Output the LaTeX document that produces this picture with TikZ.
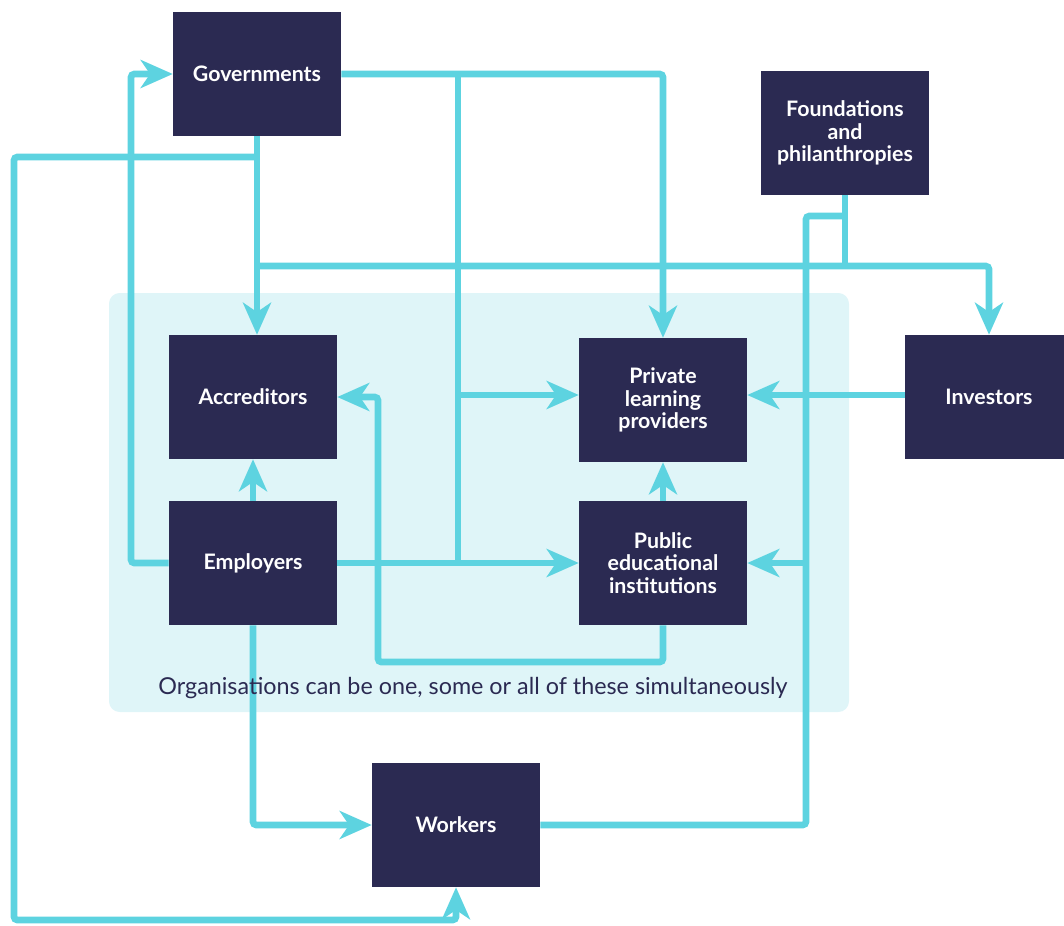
\documentclass[tikz,border=0pt]{standalone}
\usepackage{fontspec}
\setmainfont{Lato}
\usetikzlibrary{arrows.meta,calc}
\definecolor{navy}{HTML}{2B2A52}
\definecolor{cyanline}{HTML}{5DD3E0}
\definecolor{bgpale}{HTML}{DFF5F8}
\begin{document}
\begin{tikzpicture}[x=0.75pt,y=-0.75pt,
  box/.style={fill=navy, text=white, font=\bfseries\fontsize{16}{17}\selectfont, align=center,
    minimum width=126pt, minimum height=93pt, inner sep=0pt},
  conn/.style={draw=cyanline, line width=5pt, rounded corners=2.5pt},
  arr/.style={conn, -{Stealth[length=24pt,width=21pt,inset=7pt]}}]
\useasboundingbox (0,0) rectangle (1064,925);
\fill[bgpale, rounded corners=8pt] (109,293) rectangle (849,712);

\node[box] (gov) at (257,74) {Governments};
\node[box] (fnd) at (845,133) {Foundations\\and\\philanthropies};
\node[box] (acc) at (253,397) {Accreditors};
\node[box] (prv) at (663,400) {Private\\learning\\providers};
\node[box] (inv) at (989,397) {Investors};
\node[box] (emp) at (253,563) {Employers};
\node[box] (pub) at (663,563) {Public\\educational\\institutions};
\node[box] (wrk) at (456,825) {Workers};

\coordinate (xa) at (458,0);
\coordinate (xb) at (806,0);
\coordinate (xc) at (378,0);
\coordinate (xl) at (14,0);
\coordinate (xe) at (131,0);
\coordinate (ya) at (0,266);
\coordinate (yb) at (0,157);
\coordinate (yc) at (0,216);
\coordinate (yd) at (0,920);
\coordinate (ye) at (0,662);
\coordinate (yp) at (0,395);

\draw[arr] (gov.east) -| (prv.north);
\draw[conn] (gov.east -| xa) -- (xa |- emp.east);
\draw[arr] (xa |- yp) -- (prv.west |- yp);
\draw[arr] (gov.south) -- (gov.south |- acc.north);
\draw[arr] (gov.south |- ya) -| (inv.north);
\draw[conn] (fnd.south) -- (fnd.south |- ya);
\draw[conn] (wrk.east) -| (xb |- yc) -- (fnd.south |- yc);
\draw[arr] (xb |- pub.east) -- (pub.east);
\draw[arr] (inv.west |- yp) -- (prv.east |- yp);
\draw[arr] (gov.south |- yb) -- (xl |- yb) -- (xl |- yd) -| (wrk.south);
\draw[arr] (emp.west) -| (xe |- gov.west) -- (gov.west);
\draw[arr] (emp.east) -- (pub.west);
\draw[arr] (emp.north) -- (acc.south);
\draw[arr] (emp.south) |- (wrk.west);
\draw[arr] (pub.north) -- (prv.south);
\draw[arr] (pub.south) -- (pub.south |- ye) -| (xc |- acc.east) -- (acc.east);

\node[text=navy, font=\fontsize{17.5}{20}\selectfont] (note) at (473,688) {Organisations can be one, some or all of these simultaneously};
\end{tikzpicture}
\end{document}
